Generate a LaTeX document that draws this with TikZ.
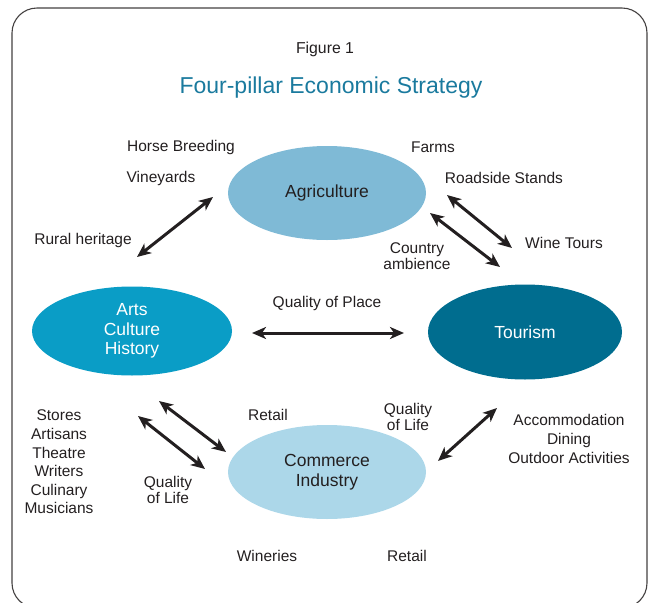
\documentclass[tikz,border=0pt]{standalone}
\usepackage{fontspec}
\setmainfont{Liberation Sans}
\usetikzlibrary{arrows.meta,shapes.geometric}
\definecolor{agri}{HTML}{7FBAD6}
\definecolor{arts}{HTML}{0A9DC6}
\definecolor{tour}{HTML}{006D8F}
\definecolor{comm}{HTML}{ACD7E9}
\definecolor{ink}{HTML}{231F20}
\definecolor{titleblue}{HTML}{1A7A9E}
\begin{document}
\begin{tikzpicture}[x=1pt,y=-1pt,
  pillar/.style={ellipse, draw=none, minimum width=198pt, minimum height=94pt, inner sep=0pt, align=center, font=\fontsize{17.5}{19.5}\selectfont},
  lbl/.style={align=center, inner sep=0pt, text=ink, font=\fontsize{15.5}{18.6}\selectfont},
  link/.style={{Stealth[length=14pt,width=12pt,inset=4pt]}-{Stealth[length=14pt,width=12pt,inset=4pt]}, line width=3pt, draw=ink}]
\useasboundingbox (0,0) rectangle (649,603);
% outer frame
\draw[line width=1.1pt, draw=ink!85, rounded corners=25pt] (12,8) rectangle (647,608);

% headings
\node[text=ink, font=\fontsize{15.8}{18}\selectfont] (fig) at (325,49.5) {Figure 1};
\node[text=titleblue, font=\fontsize{23}{26}\selectfont] (title) at (331,87.5) {Four-pillar Economic Strategy};

% the four pillars
\node[pillar, fill=agri, text=ink] (agri) at (327,193) {Agriculture};
\node[pillar, fill=arts, text=white, minimum width=200pt, minimum height=89pt] (arts) at (132,331) {Arts\\Culture\\History};
\node[pillar, fill=tour, text=white, minimum width=194pt, minimum height=95pt] (tour) at (525,332) {Tourism};
\node[pillar, fill=comm, text=ink] (comm) at (327,472) {Commerce\\Industry};

% surrounding labels
\node[lbl] (horse) at (181,147) {Horse Breeding};
\node[lbl] (vine) at (161,178) {Vineyards};
\node[lbl] (rural) at (83,240) {Rural heritage};
\node[lbl] (farms) at (433,147) {Farms};
\node[lbl] (road) at (504,178) {Roadside Stands};
\node[lbl] (winet) at (564,243) {Wine Tours};
\node[lbl] (country) at (417,256) {Country\\[-2pt]ambience};
\node[lbl] (qplace) at (327,303) {Quality of Place};
\node[lbl] (retail1) at (268,415) {Retail};
\node[lbl] (qlife1) at (408,417) {Quality\\[-2pt]of Life};
\node[lbl] (accom) at (569,439) {Accommodation\\Dining\\Outdoor Activities};
\node[lbl] (stores) at (59,462) {Stores\\Artisans\\Theatre\\Writers\\Culinary\\Musicians};
\node[lbl] (qlife2) at (168,490) {Quality\\[-2pt]of Life};
\node[lbl] (wineries) at (267,556) {Wineries};
\node[lbl] (retail2) at (407,556) {Retail};

% connector end points
\coordinate (r1) at (137,257);   \coordinate (r2) at (213,197);
\coordinate (a1) at (447,195);   \coordinate (a2) at (512,248);
\coordinate (b1) at (430,213);   \coordinate (b2) at (500,267);
\coordinate (p1) at (252,333);   \coordinate (p2) at (404,333);
\coordinate (c1) at (159,401);   \coordinate (c2) at (226,452);
\coordinate (d1) at (138,416);   \coordinate (d2) at (205,469);
\coordinate (e1) at (438,461);   \coordinate (e2) at (497,408);

% two-way links
\draw[link] (r1) -- (r2);
\draw[link] (a1) -- (a2);
\draw[link] (b1) -- (b2);
\draw[link] (p1) -- (p2);
\draw[link] (c1) -- (c2);
\draw[link] (d1) -- (d2);
\draw[link] (e1) -- (e2);
\end{tikzpicture}
\end{document}
